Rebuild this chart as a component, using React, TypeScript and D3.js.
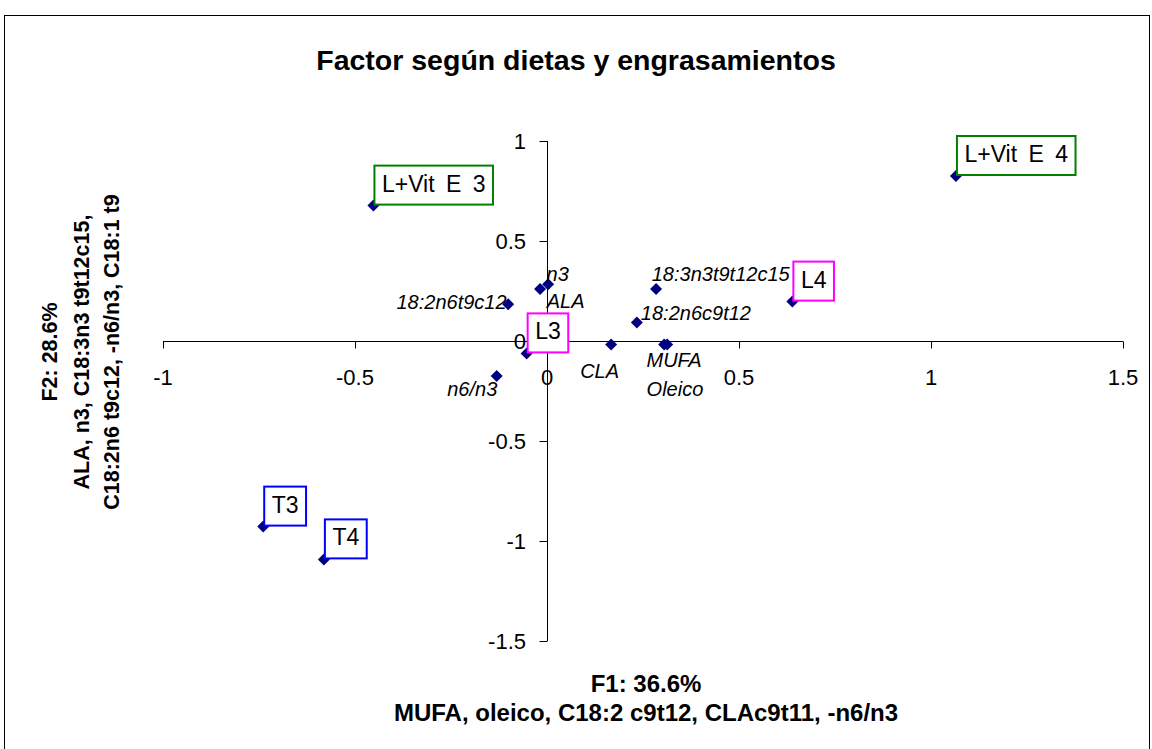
import React, { useEffect, useRef } from "react";
import * as d3 from "d3";

const title = "Factor según dietas y engrasamientos";
const xTitleLines = ["F1: 36.6%", "MUFA, oleico, C18:2 c9t12, CLAc9t11, -n6/n3"];
const yTitleLines = ["F2: 28.6%", "ALA, n3, C18:3n3 t9t12c15,", "C18:2n6 t9c12, -n6/n3, C18:1 t9"];

const xTicks = [-1, -0.5, 0, 0.5, 1, 1.5];
const yTicks = [1, 0.5, 0, -0.5, -1, -1.5];

const treatNames = ["L+Vit E 3", "L+Vit E 4", "T3", "T4", "L3", "L4"];
const treatF1 = [-0.452, 1.065, -0.739, -0.581, -0.053, 0.639];
const treatF2 = [0.677, 0.825, -0.928, -1.092, -0.062, 0.197];
const treatGroup = ["LVitE", "LVitE", "T", "T", "L", "L"];

const varNames = ["n3", "ALA", "18:2n6t9c12", "n6/n3", "CLA", "18:2n6c9t12", "18:3n3t9t12c15", "MUFA", "Oleico"];
const varF1 = [0.003, -0.018, -0.101, -0.131, 0.167, 0.234, 0.284, 0.305, 0.313];
const varF2 = [0.284, 0.26, 0.184, -0.175, -0.017, 0.092, 0.26, -0.017, -0.017];

// label placement (styling): dx, dy from point, anchor
const varLabelPos: Record<string, [number, number, string]> = {
  "n3": [-1.6, -3.3, "start"],
  "ALA": [6.7, 19.3, "start"],
  "18:2n6t9c12": [-1.6, 4.7, "end"],
  "n6/n3": [0.6, 19.7, "end"],
  "CLA": [-31, 34, "start"],
  "18:2n6c9t12": [4, -2.7, "start"],
  "18:3n3t9t12c15": [-4.3, -8.3, "start"],
  "MUFA": [-17.6, 23, "start"],
  "Oleico": [-20.6, 51.4, "start"],
};

const groupColor: Record<string, string> = { LVitE: "#008000", T: "#0000FF", L: "#FF00FF" };

const FONT = "'Liberation Sans', Arial, Helvetica, sans-serif";

export default function App() {
  const ref = useRef<SVGSVGElement | null>(null);

  useEffect(() => {
    const svg = d3.select(ref.current);
    svg.selectAll("*").remove();

    const x = d3.scaleLinear().domain([-1, 1.5]).range([163, 1123]);
    const y = d3.scaleLinear().domain([-1.5, 1]).range([641, 141]);

    svg.append("rect").attr("x", 4.5).attr("y", 15.5).attr("width", 1145).attr("height", 740)
      .attr("fill", "white").attr("stroke", "black").attr("stroke-width", 1);

    svg.append("text").attr("x", 576).attr("y", 70).attr("text-anchor", "middle")
      .attr("font-family", FONT).attr("font-weight", "bold").attr("font-size", 28.5).text(title);

    // x axis
    const x0 = Math.round(y(0)) + 0.5;
    svg.append("line").attr("x1", x(-1)).attr("x2", x(1.5)).attr("y1", x0).attr("y2", x0).attr("stroke", "black");
    xTicks.forEach((t) => {
      const px = Math.round(x(t)) + 0.5;
      if (t !== 0) svg.append("line").attr("x1", px).attr("x2", px).attr("y1", x0).attr("y2", x0 + 7).attr("stroke", "black");
      svg.append("text").attr("x", x(t)).attr("y", x0 + 43).attr("text-anchor", "middle")
        .attr("font-family", FONT).attr("font-size", 22).text(String(t));
    });

    // y axis
    const y0 = Math.round(x(0)) + 0.5;
    svg.append("line").attr("x1", y0).attr("x2", y0).attr("y1", y(1)).attr("y2", y(-1.5)).attr("stroke", "black");
    yTicks.forEach((t) => {
      const py = Math.round(y(t)) + 0.5;
      svg.append("line").attr("x1", y0 - 8).attr("x2", y0).attr("y1", py).attr("y2", py).attr("stroke", "black");
      svg.append("text").attr("x", 526).attr("y", y(t) + 8).attr("text-anchor", "end")
        .attr("font-family", FONT).attr("font-size", 22).text(String(t));
    });

    // axis titles
    xTitleLines.forEach((l, i) => {
      svg.append("text").attr("x", 646).attr("y", 692 + i * 29).attr("text-anchor", "middle")
        .attr("font-family", FONT).attr("font-weight", "bold").attr("font-size", 24).text(l);
    });
    const yx = [57, 89, 119];
    yTitleLines.forEach((l, i) => {
      svg.append("text").attr("transform", `translate(${yx[i]},352) rotate(-90)`).attr("text-anchor", "middle")
        .attr("font-family", FONT).attr("font-weight", "bold").attr("font-size", 21.5).text(l);
    });

    const sym = d3.symbol().type(d3.symbolSquare).size(72);

    // variable points
    varNames.forEach((n, i) => {
      const px = x(varF1[i]), py = y(varF2[i]);
      svg.append("path").attr("d", sym()).attr("transform", `translate(${px},${py}) rotate(45)`).attr("fill", "#000080");
      const [dx, dy, anchor] = varLabelPos[n];
      svg.append("text").attr("x", px + dx).attr("y", py + dy).attr("text-anchor", anchor)
        .attr("font-family", FONT).attr("font-style", "italic").attr("font-size", 20).text(n);
    });

    // treatment points
    treatNames.forEach((n, i) => {
      const px = x(treatF1[i]), py = y(treatF2[i]);
      svg.append("path").attr("d", sym()).attr("transform", `translate(${px},${py}) rotate(45)`).attr("fill", "#000080");
    });
    treatNames.forEach((n, i) => {
      const px = x(treatF1[i]), py = y(treatF2[i]);
      const g = svg.append("g");
      const rect = g.append("rect").attr("fill", "white").attr("stroke", groupColor[treatGroup[i]]).attr("stroke-width", 2);
      const t = g.append("text").attr("x", px + 8.5).attr("y", py - 14)
        .attr("font-family", FONT).attr("font-size", 23).attr("word-spacing", 5).text(n);
      const w = (t.node() as SVGTextElement).getComputedTextLength();
      rect.attr("x", px + 1).attr("y", py - 40).attr("width", w + 15).attr("height", 39);
    });
  }, []);

  return (
    <svg ref={ref} width={1152} height={749} style={{ display: "block", position: "absolute", left: 0, top: 0 }} />
  );
}
